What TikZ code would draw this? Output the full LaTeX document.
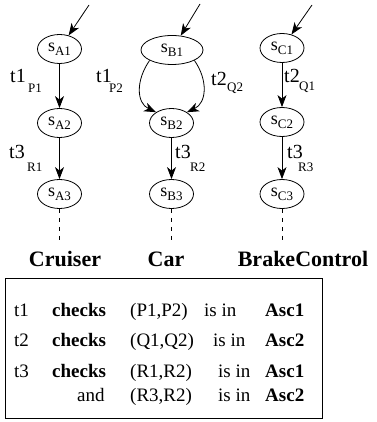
\documentclass[tikz,border=0pt]{standalone}
\usepackage{fontspec}
\setmainfont{Liberation Serif}
\usetikzlibrary{shapes.geometric,arrows.meta}
\newcommand\mystl[1]{{\fontsize{18}{18}\selectfont s}\raisebox{-4pt}{\fontsize{13}{13}\selectfont #1}}
\begin{document}
\begin{tikzpicture}[x=1pt,y=-1pt,
  st/.style={draw,ellipse,line width=0.8pt,minimum width=44pt,minimum height=29pt,inner sep=0pt},
  arr/.style={line width=0.8pt,-{Stealth[length=12pt,width=9pt,inset=3.5pt]}},
  dsh/.style={line width=0.7pt,dash pattern=on 4pt off 5pt},
  lbl/.style={anchor=base west,inner sep=0pt,font=\fontsize{20}{20}\selectfont},
  sub/.style={anchor=base west,inner sep=0pt,font=\fontsize{13}{13}\selectfont},
  ttl/.style={anchor=base,inner sep=0pt,font=\fontsize{22}{22}\selectfont\bfseries},
  tx/.style={anchor=base west,inner sep=0pt,font=\fontsize{19}{19}\selectfont},
  txb/.style={anchor=base west,inner sep=0pt,font=\fontsize{19}{19}\selectfont\bfseries}
]
\useasboundingbox (0,0) rectangle (376,422);
% states
\node[st] (A1) at (59.5,49) {\mystl{A1}};
\node[st] (A2) at (59.5,123) {\mystl{A2}};
\node[st] (A3) at (59.5,194) {\mystl{A3}};
\node[st,minimum width=62pt] (B1) at (172,50) {\mystl{B1}};
\node[st] (B2) at (171.5,123) {\mystl{B2}};
\node[st] (B3) at (171.5,194) {\mystl{B3}};
\node[st] (C1) at (282,48) {\mystl{C1}};
\node[st] (C2) at (282,122) {\mystl{C2}};
\node[st] (C3) at (282,194) {\mystl{C3}};
% entry arrows
\coordinate (eA) at (89,5);
\coordinate (eB) at (200,4);
\coordinate (eC) at (312,5);
\draw[arr] (eA) -- (A1);
\draw[arr] (eB) -- (B1);
\draw[arr] (eC) -- (C1);
% transitions
\draw[arr] (A1) -- (A2);
\draw[arr] (A2) -- (A3);
\draw[arr] (B1.205) .. controls +(235:24pt) and +(155:22pt) .. (B2.145);
\draw[arr] (B1.335) .. controls +(305:24pt) and +(25:22pt) .. (B2.35);
\draw[arr] (B2) -- (B3);
\draw[arr] (C1) -- (C2);
\draw[arr] (C2) -- (C3);
% dashed continuations
\coordinate (dA) at (59.5,240);
\coordinate (dB) at (171.5,240);
\coordinate (dC) at (282,240);
\draw[dsh] (A3.south) -- (dA);
\draw[dsh] (B3.south) -- (dB);
\draw[dsh] (C3.south) -- (dC);
% transition labels
\node[lbl] (tA1) at (10,83) {t1};
\node[sub] (tA1s) at (28,93) {P1};
\node[lbl] (tA3) at (9,158) {t3};
\node[sub] (tA3s) at (27,171) {R1};
\node[lbl] (tB1) at (96,83) {t1};
\node[sub] (tB1s) at (109,93) {P2};
\node[lbl] (tB2) at (211,86) {t2};
\node[sub] (tB2s) at (227,92) {Q2};
\node[lbl] (tB3) at (175,158) {t3};
\node[sub] (tB3s) at (190,171) {R2};
\node[lbl] (tC1) at (284,83) {t2};
\node[sub] (tC1s) at (299,91) {Q1};
\node[lbl] (tC3) at (287,158) {t3};
\node[sub] (tC3s) at (298,171) {R3};
% titles
\node[ttl] (nA) at (65,266) {Cruiser};
\node[ttl] (nB) at (166,266) {Car};
\node[ttl] (nC) at (303,266) {BrakeControl};
% box
\node[draw,line width=0.8pt,minimum width=317pt,minimum height=140pt,inner sep=0pt] (box) at (163.5,348) {};
\node[tx] (r1a) at (14,316) {t1};
\node[txb] (r1b) at (52,316) {checks};
\node[tx] (r1c) at (130,316) {(P1,P2)};
\node[tx] (r1d) at (204,316) {is in};
\node[txb] (r1e) at (265,316) {Asc1};
\node[tx] (r2a) at (14,346) {t2};
\node[txb] (r2b) at (52,346) {checks};
\node[tx] (r2c) at (130,346) {(Q1,Q2)};
\node[tx] (r2d) at (213,346) {is in};
\node[txb] (r2e) at (265,346) {Asc2};
\node[tx] (r3a) at (14,377) {t3};
\node[txb] (r3b) at (52,377) {checks};
\node[tx] (r3c) at (130,377) {(R1,R2)};
\node[tx] (r3d) at (218,377) {is in};
\node[txb] (r3e) at (265,377) {Asc1};
\node[tx] (r4b) at (77,401) {and};
\node[tx] (r4c) at (130,401) {(R3,R2)};
\node[tx] (r4d) at (218,401) {is in};
\node[txb] (r4e) at (265,401) {Asc2};
\end{tikzpicture}
\end{document}
